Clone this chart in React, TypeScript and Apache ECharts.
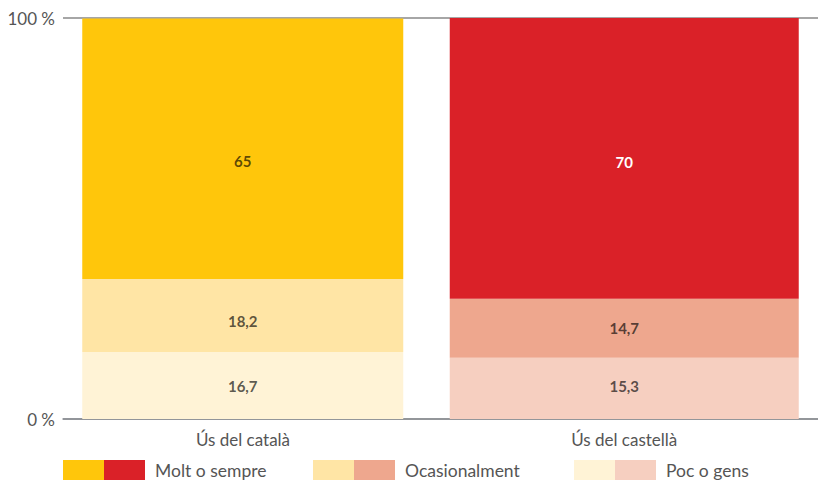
import React, { useEffect, useRef } from "react";
import * as echarts from "echarts";

const categories = ["Ús del català", "Ús del castellà"];
const moltValues = [65, 70];
const ocasValues = [18.2, 14.7];
const pocValues = [16.7, 15.3];
const seriesNames = ["Molt o sempre", "Ocasionalment", "Poc o gens"];
const catColors = ["#FFC60B", "#FFE5A5", "#FFF3D6"];
const casColors = ["#DA2128", "#EEA78E", "#F6CFC0"];
const yTicks = [0, 100];

const FONT = "Lato";

export default function App() {
  const ref = useRef<HTMLDivElement>(null);
  useEffect(() => {
    document.body.style.margin = "0";
    const chart = echarts.init(ref.current!, null, { renderer: "svg" });
    const fmt = (p: any) => String(p.value).replace(".", ",");
    const valuesByLevel = [moltValues, ocasValues, pocValues];
    const order = [2, 1, 0]; // bottom to top
    const series: any[] = [];
    const stacks = [
      { key: "cat", idx: 0, colors: catColors, width: 321, offsets: [[0, 12], [0, 5], [0, 0]] },
      { key: "cas", idx: 1, colors: casColors, width: 349, offsets: [[0, 4], [0, 0], [0, -2]] },
    ];
    stacks.forEach((s) => {
      order.forEach((lvl) => {
        const data: any[] = categories.map((_, i) =>
          i === s.idx ? valuesByLevel[lvl][i] : "-"
        );
        const white = s.key === "cas" && lvl === 0;
        series.push({
          type: "bar",
          name: seriesNames[lvl],
          stack: s.key,
          data,
          barWidth: s.width,
          barGap: "-103.12%",
          itemStyle: { color: s.colors[lvl] },
          label: {
            show: true,
            position: "inside",
            offset: s.offsets[lvl],
            formatter: fmt,
            fontFamily: FONT,
            fontSize: 15,
            fontWeight: "bold",
            color: white ? "#ffffff" : "rgba(0,0,0,0.65)",
          },
        });
      });
    });

    const legendX = [63, 313, 574];
    const graphic: any[] = [];
    seriesNames.forEach((n, i) => {
      graphic.push({
        type: "rect",
        left: legendX[i],
        top: 460,
        shape: { width: 41, height: 20 },
        style: { fill: catColors[i] },
      });
      graphic.push({
        type: "rect",
        left: legendX[i] + 41,
        top: 460,
        shape: { width: 41, height: 20 },
        style: { fill: casColors[i] },
      });
      graphic.push({
        type: "text",
        left: legendX[i] + 92,
        top: 459,
        style: {
          text: n,
          fontFamily: FONT,
          fontSize: 17.5,
          fill: "#555555",
          lineHeight: 22,
        },
      });
    });

    chart.setOption({
      animation: false,
      textStyle: { fontFamily: FONT },
      grid: { left: 63, right: -3, top: 18, bottom: 61, containLabel: false },
      xAxis: {
        type: "category",
        data: categories,
        axisLine: { show: true, lineStyle: { color: "#8c9096", width: 1.5 } },
        axisTick: { show: false },
        axisLabel: {
          margin: 12,
          fontFamily: FONT,
          fontSize: 17,
          color: "#555555",
          formatter: (v: string, i: number) => (i === 0 ? `{a|${v}}` : `{b|${v}}`),
          rich: {
            a: { fontFamily: FONT, fontSize: 17, color: "#555555", padding: [0, 17.5, 0, 0] },
            b: { fontFamily: FONT, fontSize: 17, color: "#555555", padding: [0, 10, 0, 0] },
          },
        },
      },
      yAxis: {
        type: "value",
        min: yTicks[0],
        max: yTicks[1],
        interval: 100,
        axisLine: { show: false },
        axisTick: { show: false },
        axisLabel: {
          margin: 8,
          fontFamily: FONT,
          fontSize: 17,
          color: "#555555",
          formatter: (v: number) => `${v} %`,
        },
        splitLine: { show: true, lineStyle: { color: "#888888", width: 1.5 } },
      },
      series,
      graphic,
    });
    return () => chart.dispose();
  }, []);
  return <div ref={ref} style={{ width: 818, height: 480 }} />;
}
